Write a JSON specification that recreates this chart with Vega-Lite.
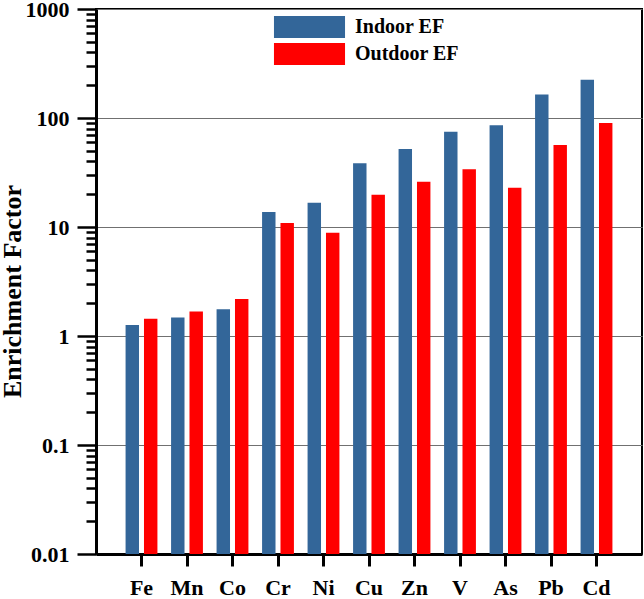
{
  "$schema": "https://vega.github.io/schema/vega-lite/v6.json",
  "width": 546,
  "height": 545,
  "autosize": {"type": "none"},
  "padding": {"left": 96, "top": 9, "right": 2, "bottom": 45},
  "background": "white",
  "config": {
    "font": "Liberation Serif",
    "view": {"stroke": "black", "strokeWidth": 2}
  },
  "data": {
    "values": [
      {"Element": "Fe", "Type": "Indoor EF", "EF": 1.26},
      {"Element": "Fe", "Type": "Outdoor EF", "EF": 1.44},
      {"Element": "Mn", "Type": "Indoor EF", "EF": 1.48},
      {"Element": "Mn", "Type": "Outdoor EF", "EF": 1.68},
      {"Element": "Co", "Type": "Indoor EF", "EF": 1.76},
      {"Element": "Co", "Type": "Outdoor EF", "EF": 2.18},
      {"Element": "Cr", "Type": "Indoor EF", "EF": 13.7},
      {"Element": "Cr", "Type": "Outdoor EF", "EF": 10.9},
      {"Element": "Ni", "Type": "Indoor EF", "EF": 16.7},
      {"Element": "Ni", "Type": "Outdoor EF", "EF": 8.87},
      {"Element": "Cu", "Type": "Indoor EF", "EF": 38.4},
      {"Element": "Cu", "Type": "Outdoor EF", "EF": 19.8},
      {"Element": "Zn", "Type": "Indoor EF", "EF": 52},
      {"Element": "Zn", "Type": "Outdoor EF", "EF": 26},
      {"Element": "V", "Type": "Indoor EF", "EF": 74.8},
      {"Element": "V", "Type": "Outdoor EF", "EF": 33.8},
      {"Element": "As", "Type": "Indoor EF", "EF": 85.7},
      {"Element": "As", "Type": "Outdoor EF", "EF": 22.9},
      {"Element": "Pb", "Type": "Indoor EF", "EF": 164},
      {"Element": "Pb", "Type": "Outdoor EF", "EF": 56.5},
      {"Element": "Cd", "Type": "Indoor EF", "EF": 224},
      {"Element": "Cd", "Type": "Outdoor EF", "EF": 90}
    ]
  },
  "mark": {"type": "bar"},
  "encoding": {
    "x": {
      "field": "Element",
      "type": "nominal",
      "sort": ["Fe", "Mn", "Co", "Cr", "Ni", "Cu", "Zn", "V", "As", "Pb", "Cd"],
      "scale": {"paddingInner": 0.3, "paddingOuter": 0.65},
      "axis": {
        "title": null,
        "labelAngle": 0,
        "labelFontSize": 22,
        "labelFontWeight": "bold",
        "labelColor": "black",
        "labelPadding": 11,
        "tickSize": 12,
        "tickWidth": 3,
        "tickColor": "black",
        "domainColor": "black",
        "domainWidth": 3
      }
    },
    "xOffset": {
      "field": "Type",
      "type": "nominal",
      "sort": ["Indoor EF", "Outdoor EF"],
      "scale": {"paddingInner": 0.27}
    },
    "y": {
      "field": "EF",
      "type": "quantitative",
      "stack": null,
      "scale": {"type": "log", "domain": [0.01, 1000], "nice": false},
      "axis": {
        "title": "Enrichment Factor",
        "titleFontSize": 26,
        "titleFontWeight": "bold",
        "titleColor": "black",
        "titleX": -76,
        "titleY": 282,
        "titleBaseline": "alphabetic",
        "titleAlign": "center",
        "titleAngle": -90,
        "values": [0.01, 0.02, 0.03, 0.04, 0.05, 0.06, 0.07, 0.08, 0.09,
                   0.1, 0.2, 0.3, 0.4, 0.5, 0.6, 0.7, 0.8, 0.9,
                   1, 2, 3, 4, 5, 6, 7, 8, 9,
                   10, 20, 30, 40, 50, 60, 70, 80, 90,
                   100, 200, 300, 400, 500, 600, 700, 800, 900, 1000],
        "labelExpr": "indexof([0.01, 0.1, 1, 10, 100, 1000], datum.value) >= 0 ? toString(datum.value) : ''",
        "labelFontSize": 22,
        "labelFontWeight": "bold",
        "labelColor": "black",
        "labelPadding": 8,
        "labelOverlap": false,
        "labelFlush": false,
        "tickColor": "black",
        "tickWidth": 2.5,
        "tickSize": {"condition": {"test": "indexof([0.01, 0.1, 1, 10, 100, 1000], datum.value) >= 0", "value": 19}, "value": 10},
        "domainColor": "black",
        "domainWidth": 3,
        "grid": true,
        "gridColor": "#707070",
        "gridWidth": 1,
        "gridOpacity": {"condition": {"test": "indexof([0.01, 0.1, 1, 10, 100, 1000], datum.value) >= 0", "value": 1}, "value": 0}
      }
    },
    "color": {
      "field": "Type",
      "type": "nominal",
      "scale": {"domain": ["Indoor EF", "Outdoor EF"], "range": ["#336699", "#FF0000"]},
      "legend": {
        "title": null,
        "orient": "none",
        "legendX": 202.5,
        "legendY": 7,
        "symbolType": "M-3.23,-1H3.23V1H-3.23Z",
        "symbolSize": 484,
        "symbolStrokeWidth": 0,
        "symbolOpacity": 1,
        "labelFontSize": 20,
        "labelFontWeight": "bold",
        "labelColor": "black",
        "labelOffset": 34.5,
        "rowPadding": 5,
        "labelLimit": 300
      }
    }
  }
}
